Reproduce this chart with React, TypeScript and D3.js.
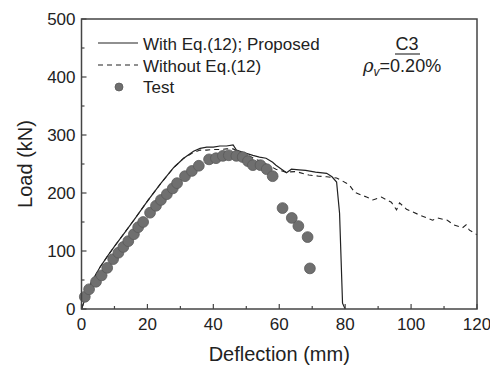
import * as d3 from "d3";

// Solid: "With Eq.(12); Proposed"
const proposedX = [0, 1.5, 3, 5.6, 8, 10, 13, 16, 20, 24, 28, 31, 34, 36, 38, 40, 42, 44, 46, 47, 49, 52, 54, 56, 58, 59, 60.7, 62.2, 63.7, 66, 68, 71, 74.4, 76, 77.4, 78.3, 79.2, 80];
const proposedY = [0, 24, 46, 72, 92, 108, 131, 154, 186, 216, 244, 260, 272, 277, 279, 279, 281, 281, 283, 274, 270, 265, 262, 260, 253, 248, 241, 235, 241, 240, 239, 236, 234, 228, 219, 165, 10, 0];

// Dashed: "Without Eq.(12)"
const withoutX = [0, 1.5, 3, 5.6, 8, 10, 13, 16, 20, 24, 28, 31, 34, 36, 38, 40, 42, 44, 46, 48, 50.5, 53, 56, 59, 62, 65, 69, 72, 74.4, 77.4, 80.4, 81.5, 82.9, 86.5, 88.4, 91, 92.6, 94, 95.6, 96.5, 98.6, 102.6, 106.5, 108, 111, 113, 115.6, 116.7, 117.7, 119.2, 120];
const withoutY = [0, 24, 46, 72, 92, 108, 131, 154, 186, 216, 244, 260, 270, 274, 274, 275, 275, 276, 276, 270, 265, 258, 250, 241, 236, 237, 231, 229, 228, 226, 217, 212, 201, 193, 188, 193, 188, 184, 171, 183, 172, 162, 153, 157, 153, 145, 140, 145, 136, 131, 128];

// Test points
const testX = [1, 2.3, 4.4, 6.1, 7.8, 9.6, 11.2, 12.7, 14.2, 15.9, 17.2, 18.7, 20.8, 22.6, 24.1, 25.9, 27.7, 29, 31.4, 33.5, 35.6, 38.7, 40.8, 42.9, 44.7, 47, 48.9, 50.5, 52, 54.3, 56.2, 58, 61, 63.8, 65.8, 68.6, 69.3];
const testY = [21, 34, 47, 58, 71, 86, 97, 107, 117, 129, 141, 150, 166, 178, 188, 198, 208, 217, 229, 238, 247, 258, 260, 264, 265, 264, 262, 255, 248, 248, 241, 229, 174, 157, 143, 124, 70];

const xTicks = [0, 20, 40, 60, 80, 100, 120];
const yTicks = [0, 100, 200, 300, 400, 500];

const W = 490;
const H = 367;
const margin = { top: 19, right: 13, bottom: 58, left: 81.5 };
const FONT = "'Liberation Sans', Arial, Helvetica, sans-serif";
const INK = "#222";

const x = d3.scaleLinear().domain([0, 120]).range([margin.left, W - margin.right]);
const y = d3.scaleLinear().domain([0, 500]).range([H - margin.bottom, margin.top]);

const line = d3
  .line<[number, number]>()
  .x((d) => x(d[0]))
  .y((d) => y(d[1]));

const zip = (a: number[], b: number[]) => a.map((v, i) => [v, b[i]] as [number, number]);

export default function App() {
  const x0 = x(0);
  const x1 = x(120);
  const y0 = y(0);
  const y1 = y(500);
  const minorX = d3.range(10, 120, 20);
  const minorY = d3.range(50, 500, 100);

  return (
    <svg
      width={W}
      height={H}
      style={{ position: "absolute", left: 0, top: 0, background: "#fff" }}
      fontFamily={FONT}
    >
      {/* Curves */}
      <path d={line(zip(withoutX, withoutY)) ?? ""} fill="none" stroke={INK} strokeWidth={1.1} strokeDasharray="5 4" />
      <path d={line(zip(proposedX, proposedY)) ?? ""} fill="none" stroke={INK} strokeWidth={1.2} />
      {testX.map((v, i) => (
        <circle key={i} cx={x(v)} cy={y(testY[i])} r={5.4} fill="#6f6f6f" stroke="#5a5a5a" strokeWidth={0.8} />
      ))}

      {/* Frame */}
      <rect x={x0} y={y1} width={x1 - x0} height={y0 - y1} fill="none" stroke="#444" strokeWidth={1.5} />

      {/* X ticks (inward) */}
      {xTicks.map((t) => (
        <g key={`x${t}`}>
          <line x1={x(t)} x2={x(t)} y1={y0} y2={y0 - 5} stroke="#444" strokeWidth={1.2} />
          <text x={x(t)} y={y0 + 21} textAnchor="middle" fontSize={17} fill={INK}>{t}</text>
        </g>
      ))}
      {minorX.map((t) => (
        <line key={`mx${t}`} x1={x(t)} x2={x(t)} y1={y0} y2={y0 - 3} stroke="#444" strokeWidth={1.2} />
      ))}

      {/* Y ticks (inward) */}
      {yTicks.map((t) => (
        <g key={`y${t}`}>
          <line x1={x0} x2={x0 + 5} y1={y(t)} y2={y(t)} stroke="#444" strokeWidth={1.2} />
          <text x={x0 - 6} y={y(t) + 6} textAnchor="end" fontSize={17} fill={INK}>{t}</text>
        </g>
      ))}
      {minorY.map((t) => (
        <line key={`my${t}`} x1={x0} x2={x0 + 3} y1={y(t)} y2={y(t)} stroke="#444" strokeWidth={1.2} />
      ))}

      {/* Axis titles */}
      <text x={(x0 + x1) / 2} y={361} textAnchor="middle" fontSize={20} fill={INK}>Deflection (mm)</text>
      <text transform={`translate(32, ${(y0 + y1) / 2}) rotate(-90)`} textAnchor="middle" fontSize={20} fill={INK}>Load (kN)</text>

      {/* Legend */}
      <line x1={98} x2={138} y1={43} y2={43} stroke={INK} strokeWidth={1.2} />
      <text x={143} y={50} fontSize={17} fill={INK}>With Eq.(12); Proposed</text>
      <line x1={98} x2={138} y1={65} y2={65} stroke={INK} strokeWidth={1.1} strokeDasharray="5 4" />
      <text x={143} y={72} fontSize={17} fill={INK}>Without Eq.(12)</text>
      <circle cx={119} cy={87} r={4} fill="#6f6f6f" stroke="#5a5a5a" strokeWidth={0.8} />
      <text x={143} y={93} fontSize={17} fill={INK}>Test</text>

      {/* Annotation */}
      <text x={407} y={50} textAnchor="middle" fontSize={18} fill={INK}>C3</text>
      <line x1={395} x2={420} y1={54} y2={54} stroke={INK} strokeWidth={1.1} />
      <text x={363} y={72} fontSize={18} fill={INK}>
        <tspan fontStyle="italic" fontFamily="'DejaVu Serif', serif">ρ</tspan>
        <tspan fontStyle="italic" fontSize={12} dy={4}>v</tspan>
        <tspan dy={-4}>=0.20%</tspan>
      </text>
    </svg>
  );
}
